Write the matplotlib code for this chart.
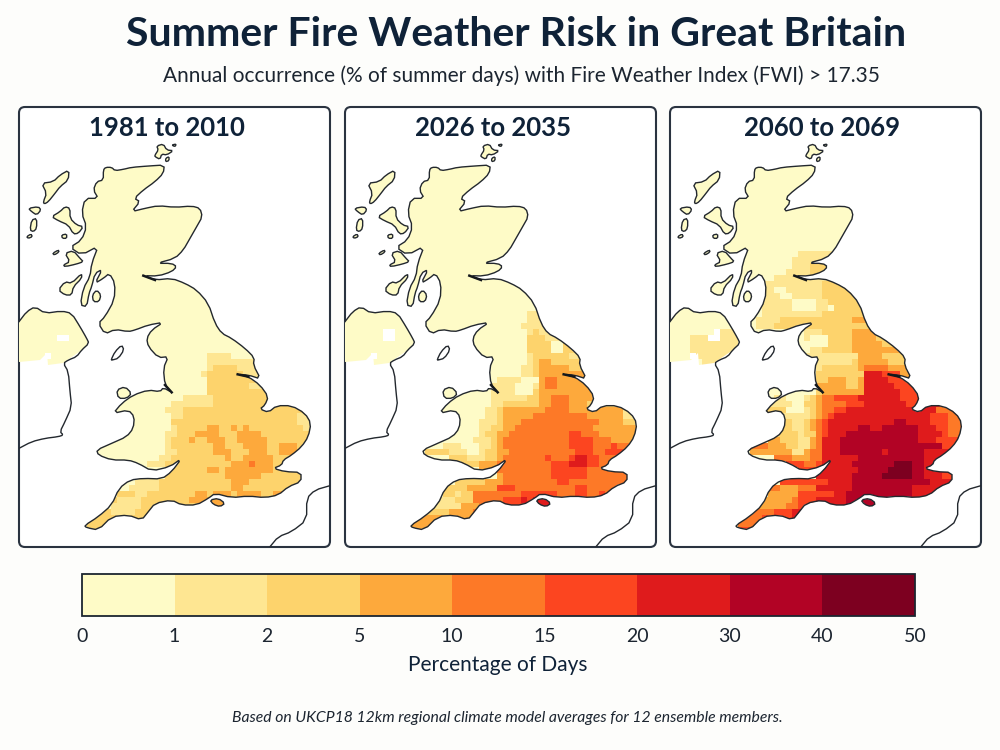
import numpy as np
import matplotlib
matplotlib.use('Agg')
import matplotlib.pyplot as plt
from matplotlib.colors import ListedColormap, BoundaryNorm
from matplotlib.cm import ScalarMappable
from matplotlib.patches import FancyBboxPatch, PathPatch, Polygon
from matplotlib.path import Path

plt.rcParams['font.family'] = ['Lato', 'DejaVu Sans']

### Text and class data
title = 'Summer Fire Weather Risk in Great Britain'
subtitle = 'Annual occurrence (% of summer days) with Fire Weather Index (FWI) > 17.35'
periods = ['1981 to 2010', '2026 to 2035', '2060 to 2069']
levels = [0, 1, 2, 5, 10, 15, 20, 30, 40, 50]
colors = ['#FEFBC7', '#FEE692', '#FDD36C', '#FDA93C', '#FD7927', '#FC4520',
          '#DF1B1C', '#B20325', '#7D0020']
class_values = [0.5, 1.5, 3.5, 7.5, 12.5, 17.5, 25, 35, 45]

### Percentage class of each 12km cell, one string per row, north to south.
### '.' is no data, blank rows are the lowest class
grid_1981 = [
    '', '', '', '', '', '', '', '', '', '', '', '', '', '', '', '',
    '0000000..0',
    '', '',
    '00000.0000 0000000000 0000000000 0011110000',
    '0000000000 0000000000 0000000000 0011111111',
    '0000000000 0000000000 0000000000 0012222111',
    '0000000000 0000000000 0000000000 0122222211 1',
    '0000000000 0000000000 0000000000 0022222222 1',
    '0000000000 0000000000 0000000000 0022222221 1',
    '0000000000 0000000000 0000000000 0022222222 22',
    '0000000000 0000000000 0000000011 1112222222 22',
    '0000000000 0000000000 0000001111 1112222222 22',
    '0000000000 0000000000 0000011122 2222222222 2222222',
    '0000000000 0000000000 0000001122 2222222222 2222222111',
    '0000000000 0000000000 0000002222 2222222222 2222222111',
    '0000000000 0000000000 0000001222 2233223232 2222222211',
    '0000000000 0000000000 0000011222 3333222333 3222222222',
    '0000000000 0000000000 0000012223 2233322333 3322222222',
    '0000000000 0000000000 0000012222 2223322233 3322333222',
    '0000000000 0000000000 0000011222 2223332223 3322333222',
    '0000000000 0000000000 0000112222 2222232233 3332222222',
    '0000000000 0000000000 0011122222 2222223334 3332222222',
    '0000000000 0000000000 0000022222 2233233333 3332222222',
    '0000000000 0000000000 0000022222 2222233333 3222222222',
    '0000000000 0000000000 1111222222 2222223332 2222222222',
    '0000000000 0000000001 1111222222 2222223322 2222222222',
    '0000000000 0000000222 1122222222 3323332333 3223322222',
    '0000000000 0000002111 1222222223 3333332222 2222222222',
    '0000000000 0000001111 1222222222 2233332222',
    '0000000000 0002221111 2222222222 2222',
    '0000000000 0022222222 2222222222',
    '0000000000 0022222222 2222222222',
    '0000000000 0222222222 2222222222',
    '0000000000 0222222222 2222222222',
]
grid_2026 = [
    '', '', '', '', '', '', '', '', '', '', '', '',
    '0000000000 0000000000 0000000000 011',
    '0000000000 0000000000 0000000000 011',
    '0000000000 0000000000 0000000000 1111',
    '0000000..0 0000000000 0000000000 0121',
    '0000000..0 0000000000 0000000000 0222111',
    '0000000000 0000000000 0000000000 0222200220',
    '0000000000 0000000000 0000000000 0222200221',
    '00000.0000 0000000000 0000000000 0122222211',
    '0000000000 0000000000 0000000000 0123322222',
    '0000000000 0000000000 0000000000 1123333322 2',
    '0000000000 0000000000 0000000000 1123333333 3',
    '0000000000 0000000000 0000001111 0003443333 3',
    '0000000000 0000000000 0000011110 0013443333 33',
    '0000000000 0000000000 0000011110 0023333333 33',
    '0000000000 0000000000 0000011111 1223344433 33',
    '0000000000 0000000000 0000011222 2223344433 3222222',
    '0000000000 0000000000 0000112333 3333444433 3333333111',
    '0000000000 0000000000 0000112333 3344444444 4333333111',
    '0000000000 0000000000 0001112333 4444444444 4443333222',
    '0000000000 0000000000 0001122334 4444444444 4433333333',
    '0000000000 0000000000 0001223344 4444444455 4443333333',
    '0000000000 0000000000 0011123444 4444444455 5544433333',
    '0000000000 0000000111 0001123444 4444444455 5544454444',
    '0000000000 0000222211 1001223344 4444444445 5544555444',
    '0000000000 0000000022 2111223444 4444544456 6554444444',
    '0000000000 0000000000 2223334444 4444455566 6554444444',
    '0000000000 0000000000 0003344444 4444455555 5444444444',
    '0000000000 0000000000 0000003444 4444455555 5444444444',
    '0000000000 0000000002 2222333444 4444445544 4444444444',
    '0000000000 0000000222 2333335554 4444444445 5444444444',
    '0000000000 0000000221 2244444444 5555554445 5445444444',
    '0000000000 0000001112 2244444555 6566664444 4444',
    '0000000000 0000011111 3334455555 5566665555',
    '0000000000 0002222233 3344',
    '0000000000 0033333333 3344',
    '0000000000 0333333333 3344',
    '0000000000 0333333333 3344',
]
grid_2060 = [
    '', '',
    '0000000000 0000000000 0011111100',
    '0000000000 0000000000 0111111000',
    '0000000000 0000000000 0111222000',
    '0000000000 0000000000 1111222200',
    '0000000000 0000000011 1111111100',
    '0000000000 0000001111 1111112222 2',
    '0000000000 0000001100 1111112222 22',
    '0000000000 0000001110 0111112222 222',
    '0000000000 0000001111 1000011222 2221',
    '0000000000 0000001111 1000011022 222',
    '0000000000 0000001111 1111112222 222',
    '0000000000 0000011112 2222222222 233',
    '0000000000 0000011122 2222222222 2222',
    '00000000.1 1100000000 0001112222 2333',
    '0000111..1 1100000000 0001000222 2333322',
    '0000111111 1100000000 0000000222 2333332 22',
    '0000111111 1100000000 0000112222 2333333332',
    '0000.11111 1100000000 0001111111 1133332222',
    '0000001111 1100000000 0000011111 1233333222',
    '0000001111 1000000000 0000012222 2234444333 2',
    '0000000000 0000000000 0000022222 2226665553 3',
    '0000000000 0000000000 0000022333 2236666555 43',
    '0000000000 0000000000 0000033333 2236666655 554',
    '0000000000 0000000000 0000023333 3336666665 555',
    '0000000000 0000000011 0001234455 5566666665 555',
    '0000000000 0000000111 1002234444 5556666666 5556664',
    '0000000000 0000002222 0001234455 6666666666 6666644444',
    '0000000000 0000000011 1111234566 6666666666 6666555444',
    '0000000000 0000000022 2112345666 6666666677 6666555444',
    '0000000000 0000000022 2112345666 6677667777 7766655444',
    '0000000000 0000000322 2212245666 7777777777 7766665444',
    '0000000000 0000000332 2211346667 7777777777 7766655555',
    '0000000000 0000444333 2211346667 7777777777 7777775555',
    '0000000000 0000333333 3113446667 7777776777 7776666666',
    '0000000000 0000000044 4333446666 6677777777 7776666666',
    '0000000000 0000000000 5554456666 6777777788 8776666666',
    '0000000000 0000000000 0055556666 6677777888 8776666666',
    '0000000000 0000000000 0000066666 6777778888 8776665555',
    '0000000000 0000000005 5555555666 6777777777 7777666666',
    '0000000000 0000000443 3344466666 6777777777 7666666666',
    '0000000000 0000000333 3355555566 7777777777 7666666666',
    '0000000000 0000003333 3455566666 7777777777 7666666666',
    '0000000000 0000033333 4455666666 7777777777',
    '0000000000 0000444455 5666666666',
    '0000000000 0004445555 5666666666',
    '0000000000 0044445555 5666',
    '0000000000 0555556666',
    '0000000000 0555556666',
]
grids = [grid_1981, grid_2026, grid_2060]

### Coastlines (map units, y down)
scot_east = [(265,120),(272,112),(290,112),(300,122),(325,118),(350,112),(400,108),(448,105),(445,130),(420,155),(385,180),
    (358,205),(375,215),(350,245),(390,235),(430,227),(480,232),(530,228),(555,235),(562,260),(545,290),
    (525,325),(505,360),(480,385),(425,400),(470,400),(485,410),(470,425),(430,438),(385,437),(420,450),
    (470,445),(510,460),(545,480),(580,520),(600,580),(620,610)]
eng_wales = [(650,625),(690,655),(718,683),(715,705),(737,747),(700,735),(668,733),(700,740),(735,765),
    (760,800),(750,825),(735,837),(760,847),(785,827),(830,827),(870,850),(888,880),(880,920),(860,950),
    (830,975),(805,990),(800,1005),(775,1015),(810,1025),(858,1027),(858,1055),(820,1070),(790,1095),
    (750,1103),(700,1098),(650,1103),(600,1090),(580,1105),(545,1125),(500,1125),(470,1110),(420,1120),
    (400,1145),(380,1170),(340,1155),(290,1160),(250,1200),(215,1193),(208,1187),(250,1160),(290,1125),
    (312,1075),(345,1050),(385,1045),(440,1047),(470,1025),(500,985),(465,1010),(410,1023),(370,1000),
    (340,990),(290,990),(250,975),(245,960),(290,940),(335,920),(355,895),(358,860),(340,840),(295,850),
    (320,820),(355,795),(400,780),(435,785),(445,773),(470,787),(450,765),(445,715),(460,680),(430,683),
    (400,650),(395,625)]
scot_west = [(410,600),(445,577),(400,585),(360,600),(340,605),(300,598),(270,612),(250,580),(270,560),
    (298,510),(300,460),(283,430),(265,445),(240,460),(262,418),(240,430),(230,470),(222,490),(215,530),
    (196,525),(205,475),(225,440),(230,400),(250,348),(200,375),(165,352),(200,330),(215,290),(200,250),
    (210,205),(250,205),(235,180),(245,155),(265,150)]
mainland = scot_east + eng_wales + scot_west

islands = [
    [(420,75),(430,60),(425,48),(445,42),(455,60),(475,62),(455,75),(440,72),(435,88),(420,80)],
    [(452,85),(462,80),(462,92),(452,95)],
    [(470,45),(484,42),(480,50)],
    [(85,215),(95,190),(80,160),(115,155),(135,135),(162,120),(160,150),(135,170),(120,190),(100,215),(88,222)],
    [(110,260),(135,245),(150,230),(165,235),(165,265),(185,285),(205,290),(190,310),(175,312),(160,285),(130,272)],
    [(40,235),(70,230),(78,240),(65,255),(50,245)],
    [(50,270),(65,265),(65,295),(55,305),(45,300)],
    [(35,320),(48,312),(52,320),(40,325)],
    [(113,370),(130,360),(132,366),(118,375)],
    [(140,315),(155,312),(155,325),(142,325)],
    [(150,370),(175,362),(195,385),(205,395),(185,402),(150,410),(145,405),(165,395)],
    [(130,480),(150,455),(170,460),(200,430),(200,445),(175,470),(170,495),(150,495)],
    [(232,495),(245,480),(258,495),(252,515),(235,515)],
    [(305,780),(330,770),(350,790),(335,805),(310,805)],
    [(585,1110),(610,1105),(630,1120),(615,1130),(595,1123)],
]
isle_of_man = [(288,690),(300,665),(320,645),(327,660),(310,685),(292,690)]
ireland_coast = [(12,575),(35,545),(60,530),(90,550),(140,543),(170,550),(195,590),(215,625),(222,640),
    (200,660),(185,680),(160,690),(145,700),(160,725),(165,785),(170,830),(150,875),(135,905),(145,915),
    (130,920),(90,925),(50,935),(12,955)]
ireland_south_edge = [(145,700),(100,705),(95,670),(75,690),(12,695)]
france_coast = [(945,1067),(900,1080),(875,1105),(875,1170),(830,1205),(790,1220),(765,1250)]
# short heavy strokes along the estuaries
estuaries = [[(385,437),(420,450)], [(668,733),(700,740)], [(450,765),(470,787)]]

ncols = 50
nrows = 69
north_rows = 19


def read_grid(rows):
    # turn the class strings into percentages, padded out past the coast
    out = np.full((nrows, ncols), class_values[0])
    for r, row in enumerate(rows):
        row = row.replace(' ', '') or '0'
        row = row.ljust(ncols, row[-1])
        for c, code in enumerate(row[:ncols]):
            out[r + north_rows, c] = np.nan if code == '.' else class_values[int(code)]
    return out


def soften(shape, closed=True):
    # one corner cutting pass so the traced coast is not so angular
    pts = np.array(shape, dtype=float)
    nxt = np.roll(pts, -1, axis=0)
    a = 0.75 * pts + 0.25 * nxt
    b = 0.25 * pts + 0.75 * nxt
    out = np.empty((2 * len(pts), 2))
    out[0::2] = a
    out[1::2] = b
    if closed:
        return out
    return np.vstack([pts[0], out[:-2], pts[-1]])


def land_path():
    shapes = [soften(mainland)] + [soften(s) for s in islands]
    shapes.append(np.array(soften(ireland_coast[:10], closed=False).tolist() + ireland_south_edge))
    verts, codes = [], []
    for s in shapes:
        verts += list(map(tuple, s)) + [tuple(s[0])]
        codes += [Path.MOVETO] + [Path.LINETO] * (len(s) - 1) + [Path.CLOSEPOLY]
    return Path(verts, codes)


### Figure
cmap = ListedColormap(colors)
norm = BoundaryNorm(levels, cmap.N)
fig = plt.figure(figsize=(10, 7.5), dpi=100, facecolor='#FDFDFB')
ink = '#0F2238'

fig.text(0.516, 1 - 35 / 750, title, ha='center', va='center', fontsize=29.5, fontweight='bold', color=ink)
fig.text(0.521, 1 - 76 / 750, subtitle, ha='center', va='center', fontsize=15, color='#1C2530')

panel_lefts = [19, 345, 670]
panel_centres = [167, 493, 822]
x_edges = np.arange(ncols + 1) * 18
y_edges = 327 - north_rows * 18 + np.arange(nrows + 1) * 18

for i in range(3):
    left = panel_lefts[i]
    ax = fig.add_axes([left / 1000, 1 - 547 / 750, 311 / 1000, 440 / 750])
    ax.set_xlim(12, 945)
    ax.set_ylim(1251, -69)
    ax.axis('off')

    box = FancyBboxPatch((27, -54), 903, 1290, boxstyle='round,pad=15,rounding_size=18',
                         facecolor='white', edgecolor='#2A3340', linewidth=1.5, zorder=1, clip_on=False)
    ax.add_patch(box)

    mesh = ax.pcolormesh(x_edges, y_edges, read_grid(grids[i]), cmap=cmap, norm=norm, zorder=2)
    clip = PathPatch(land_path(), transform=ax.transData, facecolor='none', edgecolor='none')
    ax.add_patch(clip)
    mesh.set_clip_path(clip)

    for shape in [mainland, isle_of_man] + islands:
        ax.add_patch(Polygon(soften(shape), closed=True, fill=False, edgecolor='#23282E', linewidth=1.0, zorder=3))
    for line in [ireland_coast, france_coast]:
        xs, ys = soften(line, closed=False).T
        ax.plot(xs, ys, color='#23282E', linewidth=1.0, zorder=3)
    for line in estuaries:
        xs, ys = zip(*line)
        ax.plot(xs, ys, color='#14181C', linewidth=1.8, zorder=3)

    fig.text(panel_centres[i] / 1000, 1 - 128 / 750, periods[i], ha='center', va='center',
             fontsize=18.5, fontweight='bold', color=ink)

### Colour bar
cax = fig.add_axes([82 / 1000, 1 - 616 / 750, 833 / 1000, 42 / 750])
cb = fig.colorbar(ScalarMappable(norm=norm, cmap=cmap), cax=cax, orientation='horizontal',
                  spacing='uniform', ticks=levels)
cb.ax.set_xticklabels([str(v) for v in levels])
cb.ax.tick_params(length=0, pad=9, labelsize=14, labelcolor='#1C2530')
cb.outline.set_edgecolor('#1C2530')
cb.outline.set_linewidth(1.3)
fig.text(0.498, 1 - 665 / 750, 'Percentage of Days', ha='center', va='center', fontsize=15, color=ink)
fig.text(0.507, 1 - 718 / 750, 'Based on UKCP18 12km regional climate model averages for 12 ensemble members.',
         ha='center', va='center', fontsize=11.3, style='italic', color='#1C2530')

fig.savefig('out.png', dpi=100, facecolor=fig.get_facecolor())
